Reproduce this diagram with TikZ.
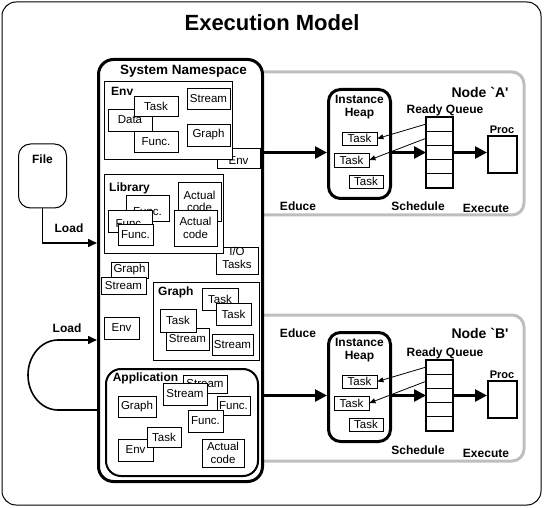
\documentclass[tikz,border=0pt]{standalone}
\usepackage{fontspec}
\setmainfont{Liberation Sans}
\usetikzlibrary{arrows.meta}
\definecolor{nodegray}{RGB}{190,190,190}
\newcommand{\objfont}{\fontsize{11.5}{12.5}\selectfont}
\newcommand{\lblfont}{\bfseries\fontsize{12}{13}\selectfont}

\begin{document}
\begin{tikzpicture}[x=1pt,y=-1pt,
	obj/.style={draw, fill=white, line width=0.8pt, inner sep=0pt, align=center, font=\objfont},
	sz/.style 2 args={minimum width=#1pt, minimum height=#2pt},
	low/.style={text height=14pt, text depth=0pt},
	lbl/.style={inner sep=0pt, font=\lblfont, align=center},
	bigarrow/.style={line width=2.6pt, -{Triangle[length=12pt,width=12pt]}},
	loadarrow/.style={line width=1.6pt, -{Triangle[length=9pt,width=8pt]}},
	thinarrow/.style={line width=0.8pt, -{Triangle[length=6pt,width=5pt]}},
	nodeframe/.style={draw=nodegray, line width=3pt, rounded corners=12pt}]
	\useasboundingbox (0,0) rectangle (544,508);
	% frame and title
	\draw[line width=1pt, rounded corners=14pt] (2,2) rectangle (541,505);
	\node[font=\bfseries\fontsize{22}{26}\selectfont] (title) at (272,23) {Execution Model};
	% nodes A and B, behind the namespace
	\draw[nodeframe] (240,72) rectangle (524,215);
	\draw[nodeframe] (240,315) rectangle (524,461);
	% system namespace
	\node[draw, fill=white, line width=3pt, rounded corners=15pt, sz={164}{422}] (ns) at (180.5,270.5) {};
	\node[lbl, font=\bfseries\fontsize{13.5}{15}\selectfont] (nslbl) at (183.5,71) {System Namespace};
	% env
	\node[obj, sz={43}{20}, low] (envs) at (238.5,158) {Env};
	\node[obj, sz={128}{78}] (env) at (168,120) {};
	\node[lbl, anchor=north west] (envlbl) at (111,87) {Env};
	\node[obj, sz={44}{22}] (data) at (130,120) {Data};
	\node[obj, sz={44}{20}] (taskenv) at (156,106) {Task};
	\node[obj, sz={44}{21}] (funcenv) at (156,141.5) {Func.};
	\node[obj, sz={43}{21}] (streamenv) at (208.5,98.5) {Stream};
	\node[obj, sz={43}{22}] (graphenv) at (208.5,135) {Graph};
	% library
	\node[obj, sz={42}{27}, low] (io) at (237,261) {I/O\\Tasks};
	\node[obj, sz={119}{79}] (lib) at (163.5,213.5) {};
	\node[lbl, anchor=north west] (liblbl) at (109,183) {Library};
	\node[obj, sz={43}{26}, low] (libfunc1) at (147.5,208) {Func.};
	\node[obj, sz={44}{22}, low] (libfunc2) at (130,221) {Func.};
	\node[obj, sz={35}{21}] (libfunc3) at (135.5,234.5) {Func.};
	\node[obj, sz={43}{39}] (code1) at (199.5,201.5) {Actual\\code};
	\node[obj, sz={43}{36}] (code2) at (195.5,228) {Actual\\code};
	% loose objects
	\node[obj, sz={37}{16}] (graphs) at (129.5,270) {Graph};
	\node[obj, sz={45}{17}] (streams) at (123.5,285.5) {Stream};
	\node[obj, sz={35}{22}] (envl) at (121.5,328) {Env};
	% graph
	\node[obj, sz={106}{78}] (graph) at (206,321) {};
	\node[lbl, anchor=north west] (graphlbl) at (158,287) {Graph};
	\node[obj, sz={36}{22}] (gtask1) at (220,299) {Task};
	\node[obj, sz={35}{22}] (gtask2) at (233.5,314) {Task};
	\node[obj, sz={43}{22}] (gstream1) at (187.5,339) {Stream};
	\node[obj, sz={36}{23}] (gtask3) at (178,320.5) {Task};
	\node[obj, sz={41}{21}] (gstream2) at (232.5,344.5) {Stream};
	% application
	\node[draw, fill=white, line width=2pt, rounded corners=15pt, sz={152}{107}] (app) at (182,422.5) {};
	\node[lbl] (applbl) at (145.5,378) {Application};
	\node[obj, sz={44}{18}] (astream1) at (205,384) {Stream};
	\node[obj, sz={44}{22}] (astream2) at (185,394) {Stream};
	\node[obj, sz={33}{19}] (afunc1) at (233.5,405.5) {Func.};
	\node[obj, sz={35}{22}] (afunc2) at (205.5,421) {Func.};
	\node[obj, sz={38}{21}] (agraph) at (137,406.5) {Graph};
	\node[obj, sz={35}{22}] (aenv) at (135.5,450) {Env};
	\node[obj, sz={34}{20}] (atask) at (164,437) {Task};
	\node[obj, sz={42}{28}] (acode) at (223,453) {Actual\\code};
	% file and loading
	\node[draw, line width=1pt, rounded corners=12pt, sz={48}{64}] (file) at (42.5,176) {};
	\node[lbl] (filelbl) at (42.5,159) {File};
	\coordinate (nsload) at (ns.west |- 0,243);
	\draw[loadarrow] (file.south) |- (nsload);
	\node[lbl] (loadA) at (69,228) {Load};
	\coordinate (nsback) at (ns.west |- 0,410);
	\coordinate (nsloop) at (ns.west |- 0,340);
	\draw[loadarrow] (nsback) -- ++(-39,0) arc[start angle=90, end angle=270, x radius=30, y radius=35] -- (nsloop);
	\node[lbl] (loadB) at (67,328) {Load};
	% node A
	\node[draw, line width=3pt, rounded corners=12pt, sz={62}{109}] (heapA) at (359.5,144) {};
	\node[lbl] (heapAlbl) at (359.5,107.5) {Instance\\Heap};
	\node[obj, sz={35}{13}] (taskA1) at (359.5,138.5) {Task};
	\node[obj, sz={35}{14}] (taskA2) at (351.5,160) {Task};
	\node[obj, sz={34}{13}] (taskA3) at (366,181.5) {Task};
	\node[draw, line width=1.3pt, outer sep=0pt, sz={27}{71}] (queueA) at (439.5,152.5) {};
	\foreach \k in {1,...,4}
		\draw[line width=1.3pt] ([yshift=-\k*14.2pt]queueA.north west) -- ([yshift=-\k*14.2pt]queueA.north east);
	\node[lbl] (queueAlbl) at (445,110) {Ready Queue};
	\node[draw, line width=2pt, sz={29}{37}] (procA) at (502.5,154.5) {};
	\node[lbl, font=\bfseries\fontsize{11}{12}\selectfont] (procAlbl) at (502,130) {Proc};
	\node[lbl, font=\bfseries\fontsize{14}{16}\selectfont] (nodeAlbl) at (480,92) {Node \textasciigrave A\textquotesingle};
	\draw[bigarrow] (ns.east |- queueA.west) -- (heapA.west |- queueA.west);
	\draw[bigarrow] (heapA.east |- queueA.west) -- (queueA.west);
	\draw[bigarrow] (queueA.east) -- (procA.west |- queueA.east);
	\draw[thinarrow] ([yshift=-7.1pt]queueA.north west) -- (taskA1.east);
	\draw[thinarrow] ([yshift=-21.3pt]queueA.north west) -- (taskA2.east);
	\node[lbl] (educeA) at (298,206) {Educe};
	\node[lbl] (schedA) at (418,206) {Schedule};
	\node[lbl] (execA) at (486,208) {Execute};
	% node B
	\node[draw, line width=3pt, rounded corners=12pt, sz={62}{109}] (heapB) at (359.5,387) {};
	\node[lbl] (heapBlbl) at (359.5,350.5) {Instance\\Heap};
	\node[obj, sz={35}{13}] (taskB1) at (359.5,381.5) {Task};
	\node[obj, sz={35}{14}] (taskB2) at (351.5,403) {Task};
	\node[obj, sz={34}{13}] (taskB3) at (366,424.5) {Task};
	\node[draw, line width=1.3pt, outer sep=0pt, sz={27}{71}] (queueB) at (439.5,395.5) {};
	\foreach \k in {1,...,4}
		\draw[line width=1.3pt] ([yshift=-\k*14.2pt]queueB.north west) -- ([yshift=-\k*14.2pt]queueB.north east);
	\node[lbl] (queueBlbl) at (445,353) {Ready Queue};
	\node[draw, line width=2pt, sz={29}{37}] (procB) at (502.5,399.5) {};
	\node[lbl, font=\bfseries\fontsize{11}{12}\selectfont] (procBlbl) at (502,375) {Proc};
	\node[lbl, font=\bfseries\fontsize{14}{16}\selectfont] (nodeBlbl) at (480,333) {Node \textasciigrave B\textquotesingle};
	\draw[bigarrow] (ns.east |- queueB.west) -- (heapB.west |- queueB.west);
	\draw[bigarrow] (heapB.east |- queueB.west) -- (queueB.west);
	\draw[bigarrow] (queueB.east) -- (procB.west |- queueB.east);
	\draw[thinarrow] ([yshift=-7.1pt]queueB.north west) -- (taskB1.east);
	\draw[thinarrow] ([yshift=-21.3pt]queueB.north west) -- (taskB2.east);
	\node[lbl] (educeB) at (298,333) {Educe};
	\node[lbl] (schedB) at (418,450) {Schedule};
	\node[lbl] (execB) at (486,453) {Execute};
\end{tikzpicture}
\end{document}
